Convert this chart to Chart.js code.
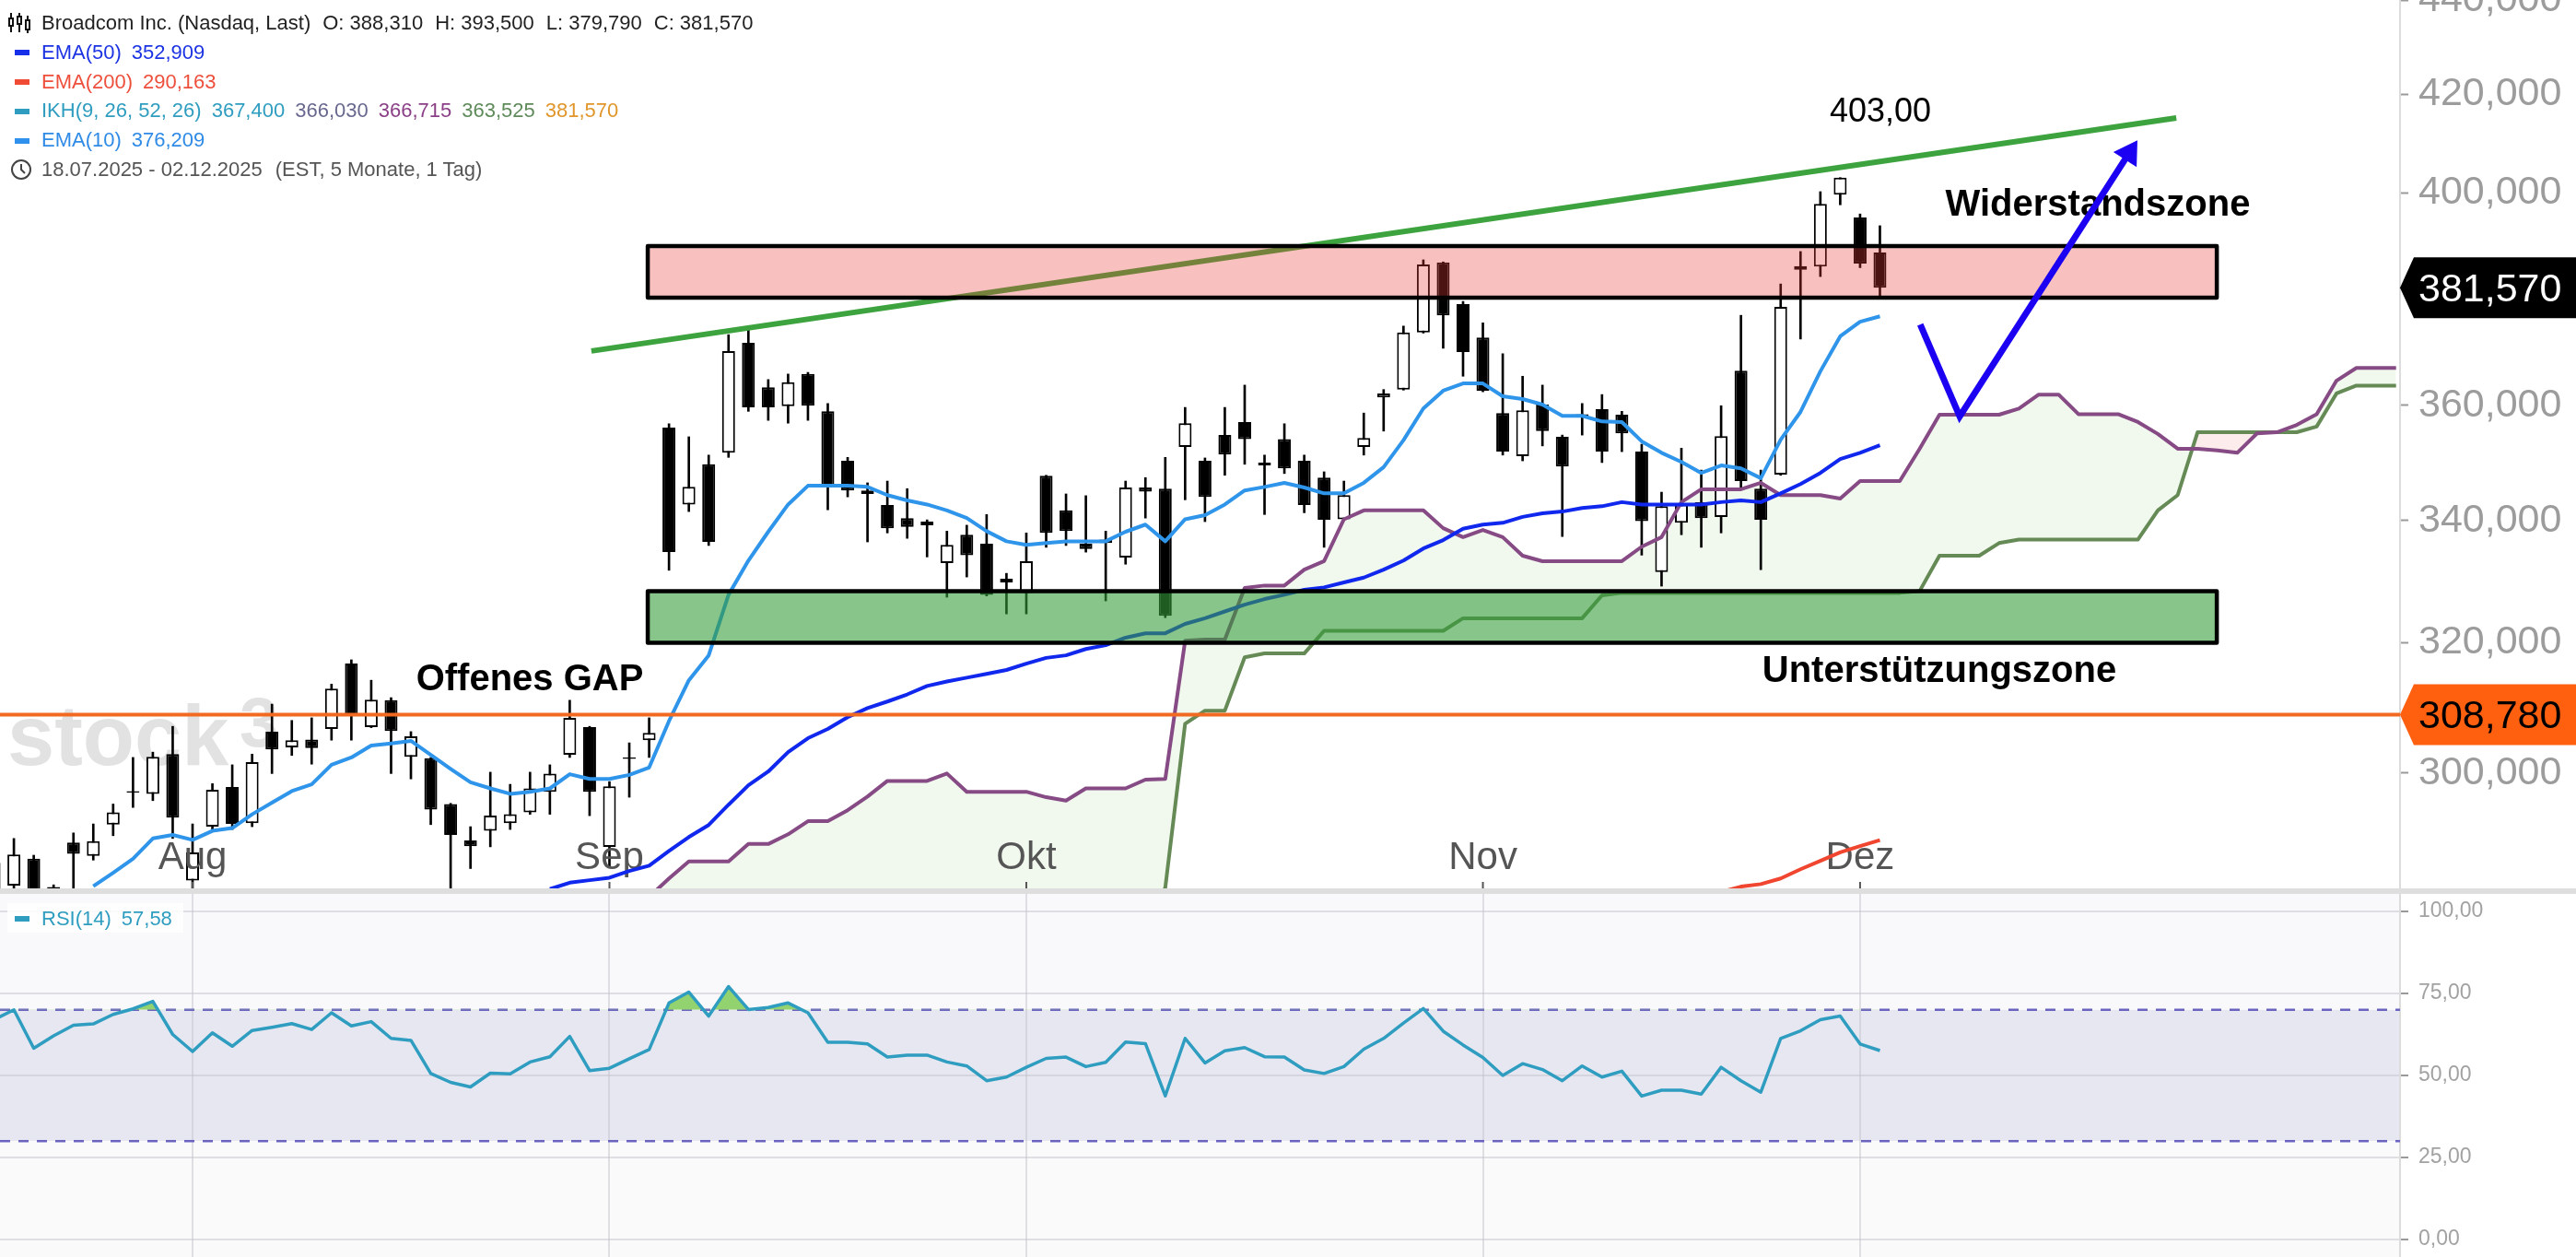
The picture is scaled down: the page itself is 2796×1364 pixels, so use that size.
<!DOCTYPE html>
<html lang="de">
<head>
<meta charset="utf-8">
<title>Broadcom Inc.</title>
<script src="https://cdn.jsdelivr.net/npm/chart.js@4/dist/chart.umd.min.js"></script>
<style>
    html, body { margin: 0; padding: 0; background: #fff; overflow: hidden; }
    body { width: 2796px; height: 1364px; position: relative; font-family: "Liberation Sans", Arial, sans-serif; }
    canvas { position: absolute; left: 0; display: block; }
    #mainChart { top: 0; }
    #rsiChart { top: 970px; }
    #divider { position: absolute; left: 0; top: 964px; width: 2796px; height: 6px; background: #dedede; }
    .row { position: absolute; left: 45px; font-size: 22px; line-height: 26px; white-space: pre; }
    .row span { margin-right: 11px; }
    .mark { position: absolute; left: 16px; width: 16px; height: 6px; }
    svg { position: absolute; }
</style>
</head>
<body>
<canvas id="mainChart" width="2796" height="964"></canvas>
<canvas id="rsiChart" width="2796" height="394"></canvas>
<div id="divider"></div>

<svg style="left:9px;top:13px" width="24" height="24" viewBox="0 0 24 24" fill="none" stroke="#111" stroke-width="2">
    <path d="M3 1v6M3 15v7M12 1v4M12 13v9M21 4v5M21 19v4"/>
    <rect x="1" y="7" width="4" height="8"/><rect x="10" y="5" width="4" height="8"/><rect x="19" y="9" width="4" height="10"/>
</svg>
<div class="row" style="top:12px;color:#222"><span style="margin-right:13px">Broadcom Inc. (Nasdaq, Last)</span><span style="margin-right:13px">O: 388,310</span><span style="margin-right:13px">H: 393,500</span><span style="margin-right:13px">L: 379,790</span><span>C: 381,570</span></div>
<div class="mark" style="top:54px;background:#1530e8"></div>
<div class="row" style="top:44px;color:#1c33e4"><span>EMA(50)</span><span>352,909</span></div>
<div class="mark" style="top:86px;background:#f04c35"></div>
<div class="row" style="top:76px;color:#ee4f3c"><span>EMA(200)</span><span>290,163</span></div>
<div class="mark" style="top:118px;background:#2f9dc0"></div>
<div class="row" style="top:107px;color:#2f9dc0"><span>IKH(9, 26, 52, 26)</span><span>367,400</span><span style="color:#68688f">366,030</span><span style="color:#8a3f86">366,715</span><span style="color:#5f8a5a">363,525</span><span style="color:#e0962a">381,570</span></div>
<div class="mark" style="top:150px;background:#2f90ee"></div>
<div class="row" style="top:139px;color:#2f8be6"><span>EMA(10)</span><span>376,209</span></div>
<svg style="left:11px;top:172px" width="24" height="24" viewBox="0 0 24 24" fill="none" stroke="#444" stroke-width="2">
    <circle cx="12" cy="12" r="10"/><path d="M12 6v6l4 4"/>
</svg>
<div class="row" style="top:171px;color:#555"><span style="margin-right:14px">18.07.2025 - 02.12.2025</span><span>(EST, 5 Monate, 1 Tag)</span></div>

<div style="position:absolute;left:8px;top:980px;width:191px;height:32px;background:rgba(255,255,255,.85)"></div>
<div class="mark" style="top:994px;background:#2f9dc0"></div>
<div class="row" style="top:984px;color:#2f9dc0"><span>RSI(14)</span><span>57,58</span></div>

<script>
// DATA, one entry per trading day
const opens = [
    280.6, 283.7, 287.5, 283.5, 289.8, 287.9, 292.4, 297.3, 296.9, 302.8,
    284.4, 292.1, 297.9, 292.6, 306.2, 303.8, 305.0, 306.6, 316.7, 306.9,
    311.0, 302.4, 302.2, 295.4, 290.1, 291.5, 292.6, 294.2, 297.2, 302.7,
    306.9, 289.2, 302.3, 304.9, 356.0, 342.7, 349.6, 351.6, 371.3, 363.2,
    359.8, 365.6, 358.9, 350.2, 345.1, 342.6, 340.4, 339.8, 332.9, 337.6,
    336.1, 330.3, 328.0, 347.6, 341.7, 336.1, 336.8, 333.8, 345.6, 345.4,
    352.6, 350.2, 354.7, 357.0, 349.9, 354.0, 350.2, 347.3, 340.2, 352.6,
    361.4, 362.8, 373.2, 386.4, 378.5, 372.3, 358.6, 351.0, 360.1, 354.4,
    358.4, 359.3, 358.3, 351.8, 331.4, 339.6, 343.1, 340.6, 366.2, 345.4,
    347.8, 385.7, 385.6, 399.6, 395.1, 388.31
];
const highs = [
    288.8, 290.4, 288.0, 283.8, 291.2, 292.5, 295.4, 302.3, 303.1, 307.0,
    292.5, 298.4, 301.2, 302.8, 310.4, 307.9, 308.3, 313.5, 317.3, 314.1,
    311.4, 306.2, 302.3, 295.5, 292.1, 300.1, 298.3, 300.1, 301.2, 311.0,
    307.0, 298.7, 304.5, 308.3, 356.7, 354.4, 351.2, 372.8, 374.4, 364.6,
    365.6, 365.9, 360.3, 350.8, 346.4, 346.7, 345.4, 340.1, 338.2, 339.2,
    341.0, 331.2, 337.9, 347.7, 344.5, 344.2, 338.2, 346.7, 347.3, 350.8,
    359.6, 350.7, 359.6, 363.6, 351.2, 356.7, 351.2, 348.3, 346.7, 358.6,
    362.8, 374.4, 386.9, 386.5, 379.0, 375.0, 369.3, 365.2, 363.6, 354.7,
    360.3, 361.9, 358.9, 353.1, 344.8, 352.4, 348.6, 359.9, 376.4, 348.6,
    382.3, 388.5, 400.2, 403.0, 395.8, 393.5
];
const lows = [
    279.3, 281.9, 280.6, 281.9, 280.6, 287.3, 290.8, 294.9, 295.9, 290.4,
    280.6, 291.7, 291.7, 292.1, 299.9, 302.6, 301.3, 304.9, 304.9, 306.8,
    299.9, 299.1, 292.4, 280.6, 286.1, 289.2, 291.7, 293.9, 293.9, 302.3,
    293.7, 286.4, 296.4, 302.3, 331.7, 341.5, 335.8, 350.8, 358.9, 357.3,
    356.8, 357.3, 341.8, 344.0, 336.4, 337.9, 337.0, 333.9, 327.3, 330.6,
    327.5, 324.6, 324.6, 335.5, 335.8, 334.7, 326.7, 332.7, 340.4, 324.0,
    343.5, 339.8, 347.7, 349.6, 341.0, 348.0, 341.3, 335.5, 340.1, 351.2,
    355.4, 362.7, 373.1, 370.3, 365.2, 362.4, 351.2, 350.2, 352.8, 337.3,
    354.7, 349.9, 351.8, 334.2, 329.1, 337.6, 335.5, 337.9, 345.4, 331.8,
    347.7, 372.0, 383.7, 397.6, 385.4, 379.79
];
const closes = [
    286.9, 288.1, 281.9, 283.1, 288.2, 290.0, 294.2, 297.1, 302.4, 293.4,
    288.4, 297.5, 292.5, 301.6, 303.5, 304.9, 303.7, 312.8, 308.7, 311.1,
    306.3, 305.5, 294.6, 290.9, 289.3, 293.7, 293.9, 297.7, 299.9, 308.3,
    297.2, 298.0, 302.1, 306.0, 334.7, 345.7, 336.4, 369.8, 359.6, 359.6,
    364.1, 359.9, 345.9, 345.1, 344.5, 338.7, 338.9, 339.2, 335.9, 334.2,
    327.7, 329.7, 333.2, 337.9, 338.2, 335.2, 336.2, 345.6, 344.9, 324.3,
    356.8, 344.0, 351.3, 354.0, 349.4, 348.9, 342.6, 340.1, 344.3, 354.2,
    362.1, 373.2, 386.0, 376.4, 369.6, 362.6, 351.8, 359.1, 355.4, 349.2,
    357.8, 351.8, 355.0, 339.9, 342.4, 342.7, 340.4, 354.5, 346.7, 340.1,
    378.0, 385.0, 397.8, 403.0, 386.2, 381.57
];

const ema10Start = 5;
const ema10 = [
    283.6, 285.5, 287.5, 290.4, 290.9, 290.2, 291.5, 291.9, 293.9, 295.6,
    297.3, 298.3, 301.2, 302.3, 304.1, 304.4, 304.8, 302.7, 300.6, 298.6,
    297.7, 296.9, 297.2, 297.7, 299.8, 299.1, 299.1, 299.7, 300.8, 307.8,
    314.1, 318.0, 327.7, 333.3, 338.1, 342.7, 345.9, 345.9, 345.9, 345.7,
    344.3, 343.4, 342.7, 341.7, 340.4, 338.2, 336.5, 335.9, 336.2, 336.5,
    336.5, 336.5, 338.1, 339.3, 336.5, 340.2, 340.9, 342.7, 345.1, 345.7,
    346.4, 345.6, 344.6, 344.6, 346.4, 349.1, 353.8, 359.4, 362.6, 363.9,
    363.9, 361.6, 361.1, 360.1, 358.1, 358.1, 357.1, 357.0, 353.6, 351.6,
    350.0, 348.1, 349.4, 348.9, 347.2, 353.9, 358.8, 366.1, 372.5, 375.2,
    376.21
];

const ema50Start = 28;
const ema50 = [
    283.2, 284.1, 284.45, 284.8, 285.75, 286.5, 288.6, 290.6, 292.35, 295.3,
    298.15, 300.2, 303.1, 305.2, 306.6, 308.4, 309.8, 310.8, 311.9, 313.2,
    313.9, 314.5, 315.1, 315.7, 316.7, 317.6, 318.0, 319.0, 319.6, 320.8,
    321.5, 321.5, 323.0, 323.9, 325.0, 326.1, 327.0, 327.7, 328.5, 328.9,
    329.7, 330.5, 331.8, 333.3, 335.3, 336.7, 338.6, 339.3, 339.6, 340.6,
    341.2, 341.5, 342.1, 342.4, 343.1, 342.7, 342.7, 342.7, 342.7, 343.1,
    343.4, 343.1, 344.6, 346.2, 348.1, 350.5, 351.6, 352.91
];

const ema200Start = 86;
const ema200 = [282.1, 282.8, 283.55, 283.9, 284.7, 286.0, 287.2, 288.4, 289.3, 290.16];

// ichimoku cloud, runs 26 days past the last candle
const cloudStart = 33;
const senkouA = [
    282.1, 284.7, 287.1, 287.1, 287.1, 289.6, 289.6, 291.0, 292.9, 292.9,
    294.5, 296.5, 298.8, 298.8, 298.8, 299.9, 297.2, 297.2, 297.2, 297.2,
    296.4, 295.9, 297.7, 297.7, 297.7, 299.0, 299.1, 320.3, 320.5, 320.5,
    328.8, 329.2, 329.2, 331.8, 333.2, 340.2, 341.7, 341.7, 341.7, 341.7,
    338.7, 337.2, 338.4, 337.2, 334.1, 333.2, 333.2, 333.2, 333.2, 333.2,
    335.6, 337.2, 343.1, 345.3, 345.3, 345.3, 346.4, 344.3, 344.3, 344.3,
    343.7, 346.7, 346.7, 346.7, 352.3, 358.3, 358.3, 358.3, 358.3, 359.4,
    361.9, 361.9, 358.4, 358.4, 358.4, 357.0, 354.9, 352.3, 352.3, 352.0,
    351.6, 355.0, 355.2, 356.5, 358.4, 364.4, 366.7, 366.7, 366.7
];
const senkouB = [
    278, 278, 278, 278, 278, 278, 278, 278, 278, 278,
    278, 278, 278, 278, 278, 278, 278, 278, 278, 278,
    278, 278, 278, 278, 278, 278, 283.4, 307.4, 309.4, 309.4,
    317.7, 318.3, 318.3, 318.3, 321.9, 321.9, 321.9, 321.9, 321.9, 321.9,
    321.9, 323.9, 323.9, 323.9, 323.9, 323.9, 323.9, 323.9, 327.6, 328.0,
    328.0, 328.0, 328.0, 328.0, 328.0, 328.0, 328.0, 328.0, 328.0, 328.0,
    328.0, 328.0, 328.0, 328.0, 328.3, 334.1, 334.1, 334.1, 336.2, 336.8,
    336.8, 336.8, 336.8, 336.8, 336.8, 336.8, 341.7, 344.3, 355.2, 355.2,
    355.2, 355.2, 355.2, 355.2, 356.2, 362.1, 363.5, 363.5, 363.5
];

const rsi = [
    67.0, 70.0, 58.3, 62.1, 65.3, 65.7, 68.6, 70.3, 72.6, 62.5,
    57.3, 63.0, 58.9, 63.7, 64.7, 65.8, 64.0, 69.1, 65.1, 66.4,
    61.3, 60.7, 50.6, 47.9, 46.5, 50.7, 50.5, 54.1, 55.7, 61.9,
    51.5, 52.2, 55.1, 57.9, 72.1, 75.4, 68.1, 77.1, 70.1, 70.7,
    72.1, 69.1, 60.1, 60.1, 59.6, 55.6, 56.2, 56.2, 54.1, 52.9,
    48.4, 49.5, 52.5, 55.2, 55.6, 52.7, 54.0, 60.2, 59.7, 43.8,
    61.3, 53.8, 57.5, 58.5, 55.7, 55.6, 51.7, 50.6, 52.7, 58.0,
    61.3, 66.0, 70.4, 63.5, 59.3, 55.5, 50.0, 53.6, 51.8, 48.4,
    52.9, 49.5, 51.3, 43.7, 45.5, 45.5, 44.3, 52.5, 48.4, 44.9,
    61.3, 63.6, 67.0, 68.1, 59.6, 57.58
];

const monthLabels = ["Aug", "Sep", "Okt", "Nov", "Dez"];
const monthIndex = [10, 31, 52, 75, 94];

const priceTicks = [300, 320, 340, 360, 400, 420, 440];
const rsiTicks = [0, 25, 50, 75, 100];
const rsiLevels = [30, 70];

const lastPrice = 381.57;
const gapPrice = 308.78;

// DRAWN OBJECTS
const resistanceZone = [379.7, 389.55];
const supportZone = [320.0, 328.3];
const zoneIndex = [32.93, 111.97];
const trendIndex = [30.09, 109.93];
const trendPrice = [369.8, 415.1];
const arrowIndex = [97.03, 99.02, 107.47];
const arrowPrice = [374.7, 358.0, 407.4];

// x window of both panes, in trading days
const xMin = 0.3;
const xMax = 121.2;
const plotRight = 2605;
const axisWidth = 2796 - plotRight;

function points(values, start) {
    return values.map((v, i) => ({ x: start + i, y: v }));
}

function priceLabel(v) {
    return v.toFixed(3).replace(".", ",");
}

function rsiLabel(v) {
    return v.toFixed(2).replace(".", ",");
}

function lineSet(label, data, color, width, order, extra) {
    return Object.assign({
        type: "line", label, data, order,
        borderColor: color, borderWidth: width,
        pointRadius: 0, tension: 0, fill: false, borderJoinStyle: "round"
    }, extra || {});
}

// draws a pentagon price tag on the axis
function priceTag(ctx, y, text, bg, fg) {
    ctx.save();
    ctx.fillStyle = bg;
    ctx.beginPath();
    ctx.moveTo(plotRight, y);
    ctx.lineTo(plotRight + 15, y - 33);
    ctx.lineTo(2796, y - 33);
    ctx.lineTo(2796, y + 33);
    ctx.lineTo(plotRight + 15, y + 33);
    ctx.closePath();
    ctx.fill();
    ctx.fillStyle = fg;
    ctx.font = "43px 'Liberation Sans'";
    ctx.textBaseline = "middle";
    ctx.textAlign = "left";
    ctx.fillText(text, 2625, y + 3);
    ctx.restore();
}

function zoneBox(ctx, chart, zone, fill) {
    const x = chart.scales.x, y = chart.scales.y;
    const left = x.getPixelForValue(zoneIndex[0]);
    const right = x.getPixelForValue(zoneIndex[1]);
    const top = y.getPixelForValue(zone[1]);
    const bottom = y.getPixelForValue(zone[0]);
    ctx.save();
    ctx.fillStyle = fill;
    ctx.fillRect(left, top, right - left, bottom - top);
    ctx.strokeStyle = "#000";
    ctx.lineWidth = 4.5;
    ctx.lineJoin = "round";
    ctx.strokeRect(left, top, right - left, bottom - top);
    ctx.restore();
}

function noteText(ctx, text, x, y, font) {
    ctx.save();
    ctx.fillStyle = "#000";
    ctx.font = font;
    ctx.textAlign = "center";
    ctx.textBaseline = "middle";
    ctx.fillText(text, x, y);
    ctx.restore();
}

const mainPlugin = {
    id: "mainOverlay",
    beforeDatasetsDraw(chart) {
        // watermark
        const ctx = chart.ctx;
        ctx.save();
        ctx.fillStyle = "#e2e2e2";
        ctx.font = "bold 92px 'Liberation Sans'";
        ctx.textBaseline = "alphabetic";
        ctx.fillText("stock", 8, 830);
        ctx.font = "bold 76px 'Liberation Sans'";
        ctx.fillText("3", 260, 810);
        ctx.restore();
    },
    afterDatasetDraw(chart, args) {
        const ctx = chart.ctx;
        const label = chart.data.datasets[args.index].label;
        if (label === "Kerzen") {
            // month labels sit inside the pane, over the candles
            const x = chart.scales.x;
            ctx.save();
            ctx.font = "42px 'Liberation Sans'";
            ctx.fillStyle = "#555";
            ctx.textAlign = "center";
            ctx.textBaseline = "alphabetic";
            monthLabels.forEach((m, i) => {
                const px = x.getPixelForValue(monthIndex[i]);
                ctx.fillText(m, px, 943);
                ctx.fillRect(px - 1, 957, 2, 7);
            });
            ctx.restore();
        }
        if (label === "Trend") {
            zoneBox(ctx, chart, resistanceZone, "rgba(234,62,56,0.32)");
            zoneBox(ctx, chart, supportZone, "rgba(52,156,58,0.59)");
            noteText(ctx, "403,00", 2041, 122, "36px 'Liberation Sans'");
            noteText(ctx, "Widerstandszone", 2277, 223, "bold 40px 'Liberation Sans'");
            noteText(ctx, "Unterstützungszone", 2105, 729, "bold 40px 'Liberation Sans'");
            noteText(ctx, "Offenes GAP", 575, 738, "bold 40px 'Liberation Sans'");
        }
    },
    afterDatasetsDraw(chart) {
        // arrow head continues the last arrow segment
        const ctx = chart.ctx;
        const x = chart.scales.x, y = chart.scales.y;
        const n = arrowIndex.length - 1;
        const x1 = x.getPixelForValue(arrowIndex[n]), y1 = y.getPixelForValue(arrowPrice[n]);
        const x0 = x.getPixelForValue(arrowIndex[n - 1]), y0 = y.getPixelForValue(arrowPrice[n - 1]);
        const len = Math.hypot(x1 - x0, y1 - y0);
        const dx = (x1 - x0) / len, dy = (y1 - y0) / len;
        const tipX = x1 + dx * 20, tipY = y1 + dy * 20;
        const baseX = tipX - dx * 25, baseY = tipY - dy * 25;
        ctx.save();
        ctx.fillStyle = "#1b00f2";
        ctx.beginPath();
        ctx.moveTo(tipX, tipY);
        ctx.lineTo(baseX - dy * 15, baseY + dx * 15);
        ctx.lineTo(baseX + dy * 15, baseY - dx * 15);
        ctx.closePath();
        ctx.fill();
        ctx.restore();
    },
    afterDraw(chart) {
        const y = chart.scales.y;
        priceTag(chart.ctx, y.getPixelForValue(lastPrice), priceLabel(lastPrice), "#000", "#fff");
        priceTag(chart.ctx, y.getPixelForValue(gapPrice), priceLabel(gapPrice), "#ff6010", "#000");
    }
};

const wicks = highs.map((h, i) => ({ x: i, y: [lows[i], h] }));
const bodies = opens.map((o, i) => ({ x: i, y: [o, closes[i]] }));
const bodyFill = opens.map((o, i) => (closes[i] > o ? "#fff" : "#000"));

// MAIN CHART
new Chart(document.getElementById("mainChart"), {
    data: {
        datasets: [
            lineSet("Senkou A", points(senkouA, cloudStart), "#864a84", 4, 9, {
                fill: { target: 1, above: "#f1f8ee", below: "#fdecec" }
            }),
            lineSet("Senkou B", points(senkouB, cloudStart), "#658a55", 4, 9),
            { type: "bar", label: "Dochte", data: wicks, order: 15, grouped: false, barThickness: 2, backgroundColor: "#000" },
            {
                type: "bar", label: "Kerzen", data: bodies, order: 14, grouped: false, barThickness: 14,
                backgroundColor: bodyFill, borderColor: "#000", borderWidth: 2, borderSkipped: false, inflateAmount: 0
            },
            lineSet("EMA(200)", points(ema200, ema200Start), "#f0462f", 4, 8),
            lineSet("EMA(50)", points(ema50, ema50Start), "#1028ee", 4, 7),
            lineSet("EMA(10)", points(ema10, ema10Start), "#2f95ea", 4, 6),
            lineSet("GAP", [{ x: xMin, y: gapPrice }, { x: xMax, y: gapPrice }], "#f26a21", 4, 5),
            lineSet("Trend", points(trendPrice, 0).map((p, i) => ({ x: trendIndex[i], y: p.y })), "#3da33f", 6, 4),
            lineSet("Pfeil", points(arrowPrice, 0).map((p, i) => ({ x: arrowIndex[i], y: p.y })), "#1b00f2", 7, 1, { borderJoinStyle: "miter" })
        ]
    },
    options: {
        responsive: false,
        animation: false,
        devicePixelRatio: 1,
        layout: { padding: 0 },
        plugins: {
            legend: { display: false },
            tooltip: { enabled: false },
            filler: { drawTime: "beforeDatasetsDraw" }
        },
        scales: {
            // bar charts turn on offset by default, the candles must stay on the RSI grid
            x: { type: "linear", offset: false, min: xMin, max: xMax, display: false },
            y: {
                type: "logarithmic",
                position: "right",
                min: 283.3,
                max: 440.1,
                afterBuildTicks(scale) {
                    scale.ticks = priceTicks.map(v => ({ value: v }));
                },
                afterFit(scale) {
                    scale.width = axisWidth;
                    scale.paddingTop = 0;
                    scale.paddingBottom = 0;
                },
                border: { color: "#dcdcdc", width: 2 },
                grid: { drawOnChartArea: false, color: "#9a9a9a", tickLength: 9, tickWidth: 2 },
                ticks: {
                    autoSkip: false,
                    maxRotation: 0,
                    padding: 11,
                    color: "#9c9c9c",
                    font: { family: "'Liberation Sans'", size: 43 },
                    callback: v => priceLabel(v)
                }
            }
        }
    },
    plugins: [mainPlugin]
});

const rsiPlugin = {
    id: "rsiBands",
    beforeDraw(chart) {
        const ctx = chart.ctx;
        const y = chart.scales.y;
        const area = chart.chartArea;
        const top = y.getPixelForValue(rsiLevels[1]);
        const bottom = y.getPixelForValue(rsiLevels[0]);
        ctx.save();
        ctx.fillStyle = "#f9f8fb";
        ctx.fillRect(0, area.top, area.right, top - area.top);
        ctx.fillStyle = "#e7e7f2";
        ctx.fillRect(0, top, area.right, bottom - top);
        ctx.fillStyle = "#fafafa";
        ctx.fillRect(0, bottom, area.right, area.bottom - bottom);
        ctx.restore();
    }
};

// RSI CHART
new Chart(document.getElementById("rsiChart"), {
    data: {
        datasets: [
            lineSet("RSI(14)", points(rsi, 0), "#2f9dc0", 3.5, 1, {
                fill: { value: rsiLevels[1], above: "#93d36f", below: "rgba(0,0,0,0)" }
            }),
            lineSet("70", [{ x: xMin, y: rsiLevels[1] }, { x: xMax, y: rsiLevels[1] }], "#6b63c0", 2.5, 2, { borderDash: [11, 9] }),
            lineSet("30", [{ x: xMin, y: rsiLevels[0] }, { x: xMax, y: rsiLevels[0] }], "#6b63c0", 2.5, 2, { borderDash: [11, 9] })
        ]
    },
    options: {
        responsive: false,
        animation: false,
        devicePixelRatio: 1,
        layout: { padding: 0 },
        plugins: { legend: { display: false }, tooltip: { enabled: false } },
        scales: {
            x: {
                type: "linear",
                min: xMin,
                max: xMax,
                afterBuildTicks(scale) {
                    scale.ticks = monthIndex.map(v => ({ value: v }));
                },
                afterFit(scale) {
                    scale.height = 0;
                    scale.paddingLeft = 0;
                    scale.paddingRight = 0;
                },
                border: { display: false },
                grid: { color: "rgba(190,190,200,0.45)", lineWidth: 2, drawTicks: false },
                ticks: { display: false, autoSkip: false }
            },
            y: {
                type: "linear",
                position: "right",
                min: -5.34,
                max: 105.34,
                afterBuildTicks(scale) {
                    scale.ticks = rsiTicks.map(v => ({ value: v }));
                },
                afterFit(scale) {
                    scale.width = axisWidth;
                    scale.paddingTop = 0;
                    scale.paddingBottom = 0;
                },
                border: { color: "#dcdcdc", width: 2 },
                grid: { color: "rgba(190,190,200,0.45)", lineWidth: 2, tickLength: 9, tickColor: "#9a9a9a" },
                ticks: {
                    autoSkip: false,
                    padding: 11,
                    color: "#a2a2a2",
                    font: { family: "'Liberation Sans'", size: 23 },
                    callback: v => rsiLabel(v)
                }
            }
        }
    },
    plugins: [rsiPlugin]
});
</script>
</body>
</html>
